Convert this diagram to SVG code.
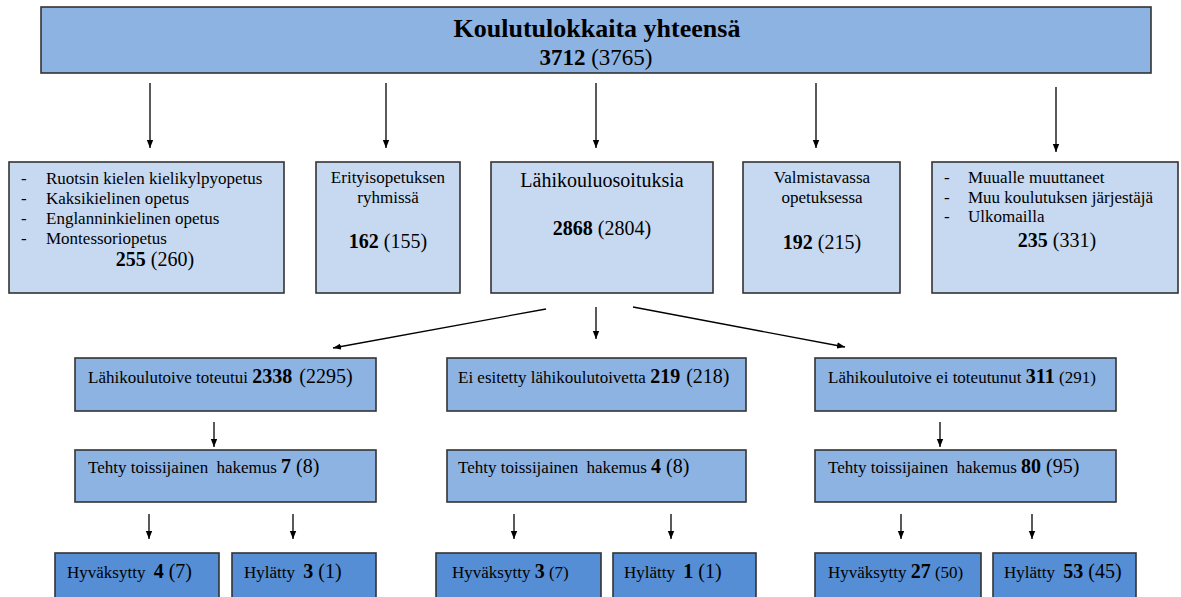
<svg xmlns="http://www.w3.org/2000/svg" width="1181" height="597" viewBox="0 0 1181 597">
<style>
text{font-family:"Liberation Serif","Times New Roman",serif;fill:#000;font-size:17px}
.b{font-weight:bold}
.n{font-size:20px}
.top{fill:#8DB3E2;stroke:#333;stroke-width:1.6}
.l1{fill:#C6D9F1;stroke:#333;stroke-width:1.6}
.l2{fill:#8DB3E2;stroke:#333;stroke-width:1.6}
.l3{fill:#558ED5;stroke:#333;stroke-width:1.6}
.c line{stroke:#000;stroke-width:1.3;marker-end:url(#ah)}
.m{text-anchor:middle}
</style>
<defs>
<marker id="ah" markerWidth="8" markerHeight="8" refX="8" refY="4" orient="auto" markerUnits="userSpaceOnUse"><path d="M0,0.8 L8,4 L0,7.2 z" fill="#000"/></marker>
</defs>
<g id="total">
<rect class="top" x="41" y="7" width="1110" height="66"/>
<text class="m b" x="597" y="37" style="font-size:26px">Koulutulokkaita yhteensä</text>
<text class="m" x="596" y="65" style="font-size:23px"><tspan class="b">3712</tspan> (3765)</text>
</g>
<g id="kieli">
<rect class="l1" x="9" y="162" width="275" height="131"/>
<text x="21" y="184">-</text><text x="46" y="184">Ruotsin kielen kielikylpyopetus</text>
<text x="21" y="204">-</text><text x="46" y="204">Kaksikielinen opetus</text>
<text x="21" y="224">-</text><text x="46" y="224">Englanninkielinen opetus</text>
<text x="21" y="244">-</text><text x="46" y="244">Montessoriopetus</text>
<text class="m n" x="155" y="266"><tspan class="b">255</tspan> (260)</text>
</g>
<g id="erityis">
<rect class="l1" x="316" y="162" width="144" height="131"/>
<text class="m" x="388" y="183">Erityisopetuksen</text>
<text class="m" x="388" y="203">ryhmissä</text>
<text class="m n" x="388" y="248"><tspan class="b">162</tspan> (155)</text>
</g>
<g id="lahikoulu">
<rect class="l1" x="491" y="162" width="222" height="131"/>
<text class="m n" x="602" y="187">Lähikouluosoituksia</text>
<text class="m n" x="602" y="235"><tspan class="b">2868</tspan> (2804)</text>
</g>
<g id="valmistava">
<rect class="l1" x="743" y="162" width="157" height="131"/>
<text class="m" x="822" y="183">Valmistavassa</text>
<text class="m" x="822" y="203">opetuksessa</text>
<text class="m n" x="822" y="249"><tspan class="b">192</tspan> (215)</text>
</g>
<g id="muualle">
<rect class="l1" x="932" y="162" width="246" height="131"/>
<text x="944" y="183">-</text><text x="968" y="183">Muualle muuttaneet</text>
<text x="944" y="203">-</text><text x="968" y="203">Muu koulutuksen järjestäjä</text>
<text x="944" y="222">-</text><text x="968" y="222">Ulkomailla</text>
<text class="m n" x="1057" y="247"><tspan class="b">235</tspan> (331)</text>
</g>
<g id="toteutui">
<rect class="l2" x="75" y="358" width="301" height="53"/>
<text x="88" y="383">Lähikoulutoive toteutui <tspan class="b n">2338</tspan><tspan class="n" dx="2"> (2295)</tspan></text>
</g>
<g id="eiesitetty">
<rect class="l2" x="447" y="358" width="299" height="53"/>
<text x="458" y="383">Ei esitetty lähikoulutoivetta <tspan class="b n">219</tspan><tspan class="n" dx="1"> (218)</tspan></text>
</g>
<g id="eitoteutunut">
<rect class="l2" x="815" y="358" width="301" height="53"/>
<text x="828" y="383">Lähikoulutoive ei toteutunut <tspan class="b n">311</tspan> (291)</text>
</g>
<g id="hakemusA">
<rect class="l2" x="75" y="450" width="301" height="52"/>
<text x="88" y="473">Tehty toissijainen <tspan dx="4">hakemus </tspan><tspan class="b n">7</tspan><tspan class="n"> (8)</tspan></text>
</g>
<g id="hakemusB">
<rect class="l2" x="447" y="450" width="299" height="52"/>
<text x="458" y="473">Tehty toissijainen <tspan dx="4">hakemus </tspan><tspan class="b n">4</tspan><tspan class="n"> (8)</tspan></text>
</g>
<g id="hakemusC">
<rect class="l2" x="815" y="450" width="301" height="52"/>
<text x="828" y="473">Tehty toissijainen <tspan dx="4">hakemus </tspan><tspan class="b n">80</tspan><tspan class="n"> (95)</tspan></text>
</g>
<g id="hyvA">
<rect class="l3" x="55" y="553" width="164" height="60"/>
<text x="67" y="578">Hyväksytty <tspan class="b n" dx="4">4</tspan><tspan class="n"> (7)</tspan></text>
</g>
<g id="hylA">
<rect class="l3" x="232" y="553" width="144" height="60"/>
<text x="244" y="578">Hylätty <tspan class="b n" dx="4">3</tspan><tspan class="n"> (1)</tspan></text>
</g>
<g id="hyvB">
<rect class="l3" x="436" y="553" width="165" height="60"/>
<text x="452" y="578">Hyväksytty <tspan class="b n">3</tspan> (7)</text>
</g>
<g id="hylB">
<rect class="l3" x="613" y="553" width="143" height="60"/>
<text x="624" y="578">Hylätty <tspan class="b n" dx="4">1</tspan><tspan class="n"> (1)</tspan></text>
</g>
<g id="hyvC">
<rect class="l3" x="815" y="553" width="166" height="60"/>
<text x="828" y="578">Hyväksytty <tspan class="b n">27</tspan> (50)</text>
</g>
<g id="hylC">
<rect class="l3" x="993" y="553" width="143" height="60"/>
<text x="1004" y="578">Hylätty <tspan class="b n" dx="4">53</tspan><tspan class="n"> (45)</tspan></text>
</g>
<g id="connectors" class="c">
<line x1="150" y1="83" x2="150" y2="148"/>
<line x1="386" y1="83" x2="386" y2="148"/>
<line x1="596" y1="83" x2="596" y2="148"/>
<line x1="816" y1="83" x2="816" y2="148"/>
<line x1="1056" y1="87" x2="1056" y2="152"/>
<line x1="546" y1="309" x2="333" y2="348"/>
<line x1="596" y1="307" x2="596" y2="339"/>
<line x1="633" y1="307" x2="845" y2="347"/>
<line x1="214" y1="422" x2="214" y2="447"/>
<line x1="940" y1="422" x2="940" y2="447"/>
<line x1="149" y1="514" x2="149" y2="539"/>
<line x1="293" y1="514" x2="293" y2="539"/>
<line x1="514" y1="514" x2="514" y2="539"/>
<line x1="671" y1="514" x2="671" y2="539"/>
<line x1="901" y1="514" x2="901" y2="539"/>
<line x1="1032" y1="514" x2="1032" y2="539"/>
</g>
</svg>
